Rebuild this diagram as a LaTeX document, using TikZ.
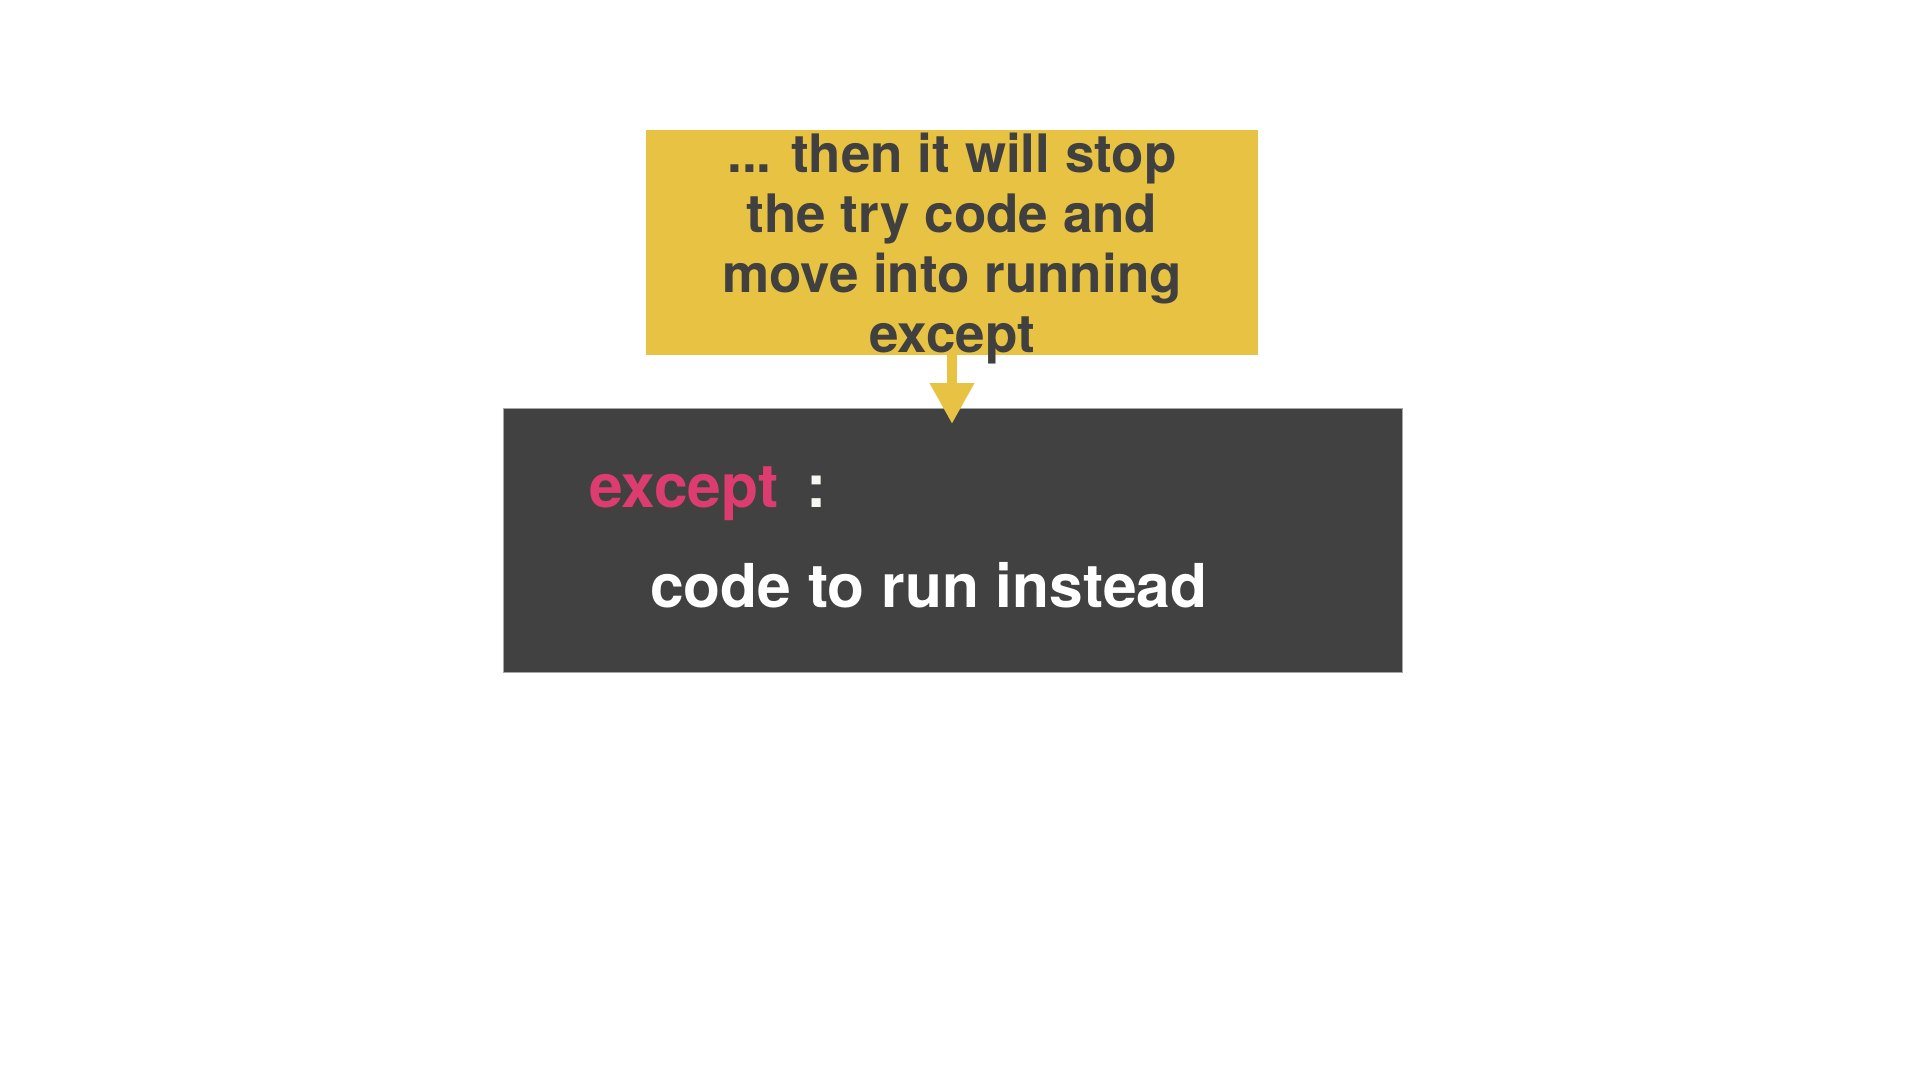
\documentclass[tikz,border=0pt]{standalone}
\usepackage{fontspec}
\usetikzlibrary{arrows.meta}
\newfontfamily\herosfam{TeX Gyre Heros}
\definecolor{boxyellow}{RGB}{232,194,66}
\definecolor{boxdark}{RGB}{65,65,65}
\definecolor{txtdark}{RGB}{64,64,64}
\definecolor{kwpink}{RGB}{220,60,111}
\definecolor{colonwhite}{RGB}{248,248,242}
\tikzset{
  ybox/.style={rectangle, fill=boxyellow, inner sep=0, minimum width=612pt, minimum height=225pt},
  dbox/.style={rectangle, fill=boxdark, draw=black!35, line width=0.8pt, inner sep=0, minimum width=899pt, minimum height=264pt},
  ytxt/.style={font=\herosfam\bfseries\fontsize{53}{60}\selectfont, text=txtdark, anchor=base, inner sep=0},
  dtxt/.style={font=\herosfam\bfseries\fontsize{60.5}{70}\selectfont, anchor=base west, inner sep=0},
  yarrow/.style={draw=boxyellow, line width=10pt, -{Triangle[length=41pt,width=42pt]}}
}
\begin{document}
\begin{tikzpicture}[x=1pt,y=-1pt]
\useasboundingbox (0,0) rectangle (1920,1080);
\fill[white] (0,0) rectangle (1920,1080);
\node[ybox] (yellow) at (952,242.5) {};
\node[dbox] (dark) at (952.5,540) {};
\coordinate (tip) at (952,424);
\draw[yarrow] (yellow.south) -- (tip);
\node[ytxt] (l1) at (952,172) {... then it will stop};
\node[ytxt] (l2) at (952,232) {the try code and};
\node[ytxt] (l3) at (952,292) {move into running};
\node[ytxt] (l4) at (952,352) {except};
\node[dtxt, text=kwpink] (kw) at (589,507) {except};
\node[dtxt, text=colonwhite] (colon) at (806,507) {:};
\node[dtxt, text=white] (code) at (650,607) {code to run instead};
\end{tikzpicture}
\end{document}
